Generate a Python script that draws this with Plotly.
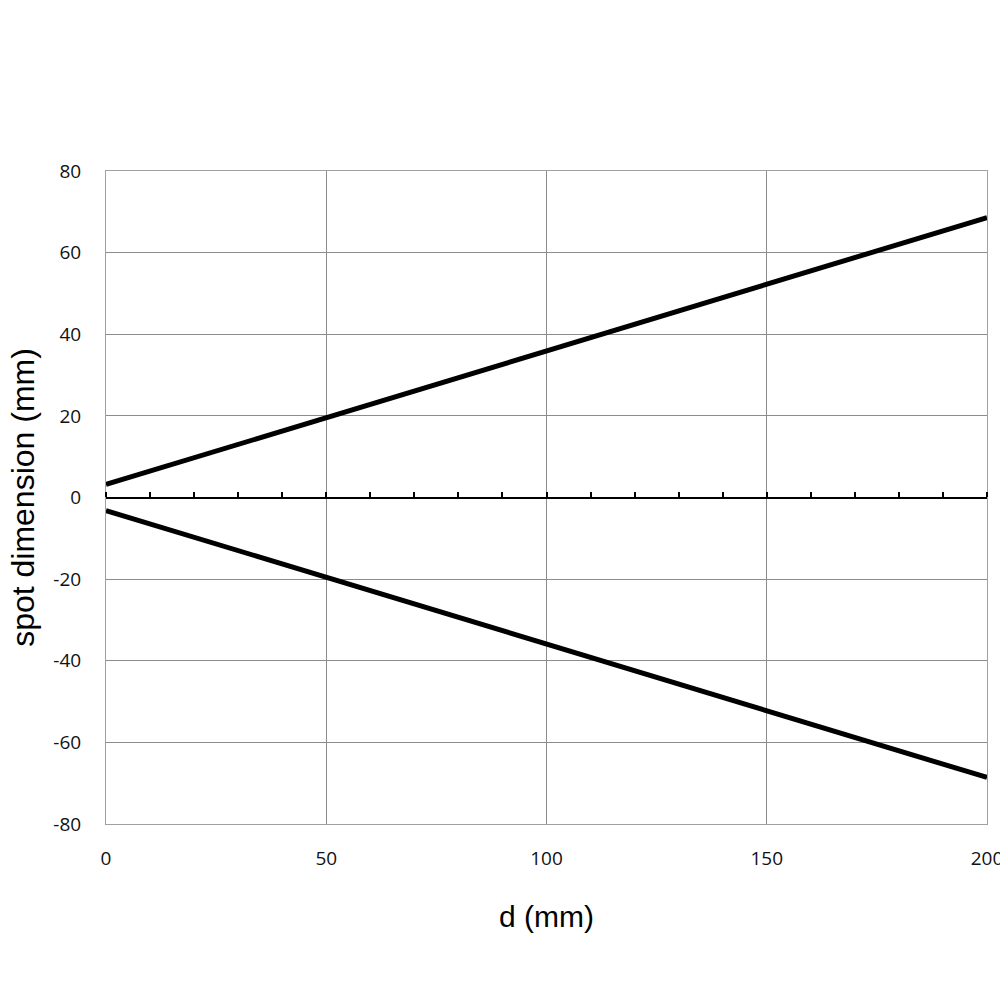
import plotly.graph_objects as go

# ---------------------------------------------------------
# DATA
# ---------------------------------------------------------
d_mm = [0, 50, 100, 150, 200]
spot_upper = [3.2, 19.6, 36.0, 52.3, 68.6]
spot_lower = [-3.2, -19.6, -36.0, -52.3, -68.6]

x_ticks = [0, 50, 100, 150, 200]
y_ticks = [-80, -60, -40, -20, 0, 20, 40, 60, 80]
y_labels = [str(v) for v in y_ticks]   # plain hyphen minus, as in the reference

fig = go.Figure()

fig.add_trace(go.Scatter(x=d_mm, y=spot_upper, mode='lines',
                         line=dict(color='black', width=5), showlegend=False))
fig.add_trace(go.Scatter(x=d_mm, y=spot_lower, mode='lines',
                         line=dict(color='black', width=5), showlegend=False))

# dummy trace so that the zero-line axis (with its small ticks) is drawn
fig.add_trace(go.Scatter(x=[0, 200], y=[0, 0], xaxis='x2', mode='lines',
                         line=dict(color='rgba(0,0,0,0)'), showlegend=False,
                         hoverinfo='skip'))

tick_font = dict(family='Open Sans, Liberation Sans, sans-serif', size=19, color='#111111')

fig.update_layout(
    width=1000, height=1000, autosize=False,
    paper_bgcolor='white', plot_bgcolor='white',
    margin=dict(l=106, r=13, t=171, b=176),
    xaxis=dict(
        range=[0, 200], tickvals=x_ticks, ticks='',
        showgrid=True, gridcolor='#8c8c8c', gridwidth=1,
        showline=True, linecolor='#a0a0a0', linewidth=1, mirror=True,
        zeroline=False, tickfont=tick_font, automargin=False,
        ticklabelstandoff=17, ticklabeloverflow='allow',
        title=dict(text='d (mm)', standoff=36,
                   font=dict(family='Liberation Sans, Arial, sans-serif', size=30, color='black')),
    ),
    xaxis2=dict(
        range=[0, 200], overlaying='x', anchor='free', position=0.5,
        side='top', ticks='outside', ticklen=5, tickwidth=1.5,
        tickcolor='black', dtick=10, tick0=0, automargin=False,
        showticklabels=False, showgrid=False, zeroline=False,
        showline=True, linecolor='black', linewidth=2,
    ),
    yaxis=dict(
        range=[-80, 80], tickvals=y_ticks, ticktext=y_labels, ticks='',
        showgrid=True, gridcolor='#8c8c8c', gridwidth=1,
        showline=True, linecolor='#a0a0a0', linewidth=1, mirror=True,
        zeroline=False, tickfont=tick_font, ticklabelstandoff=20, automargin=False,
        title=dict(text='spot dimension (mm)', standoff=9,
                   font=dict(family='Liberation Sans, Arial, sans-serif', size=32, color='black')),
    ),
)

# drop the default page margin so the 1000x1000 figure fills the window
fig.write_html("out.html", config={'responsive': False, 'displayModeBar': False},
               post_script="document.body.style.margin='0';"
                           "document.body.style.overflow='hidden';")
